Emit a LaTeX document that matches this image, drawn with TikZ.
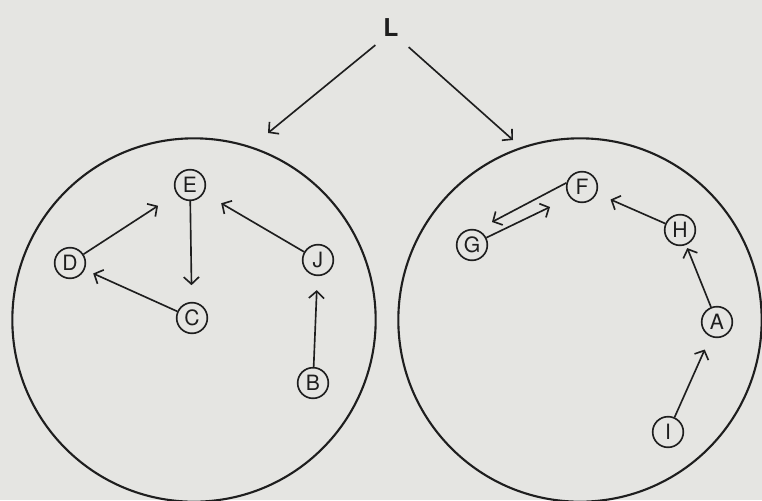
\documentclass[tikz,border=0pt]{standalone}
\usepackage{fontspec}
\setmainfont{TeX Gyre Heros}
\usetikzlibrary{arrows.meta}
\definecolor{bg}{RGB}{229,229,226}
\definecolor{ink}{RGB}{30,30,30}
\begin{document}
\begin{tikzpicture}[x=0.03cm,y=-0.03cm,
  vtx/.style={draw=ink, line width=1.4pt, circle, inner sep=0pt, minimum size=0.92cm, font=\fontsize{18}{18}\selectfont, text=ink},
  big/.style={draw=ink, line width=1.8pt, circle, inner sep=0pt, minimum size=10.9cm},
  arr/.style={draw=ink, line width=1.4pt, -{Straight Barb[length=6pt,width=13pt,line width=1.4pt]}}]
\fill[bg] (0,0) rectangle (762,500);
\useasboundingbox (0,0) rectangle (762,500);
% big circles
\node[big] (left) at (194,320) {};
\node[big] (right) at (580,320) {};
% label L
\node[font=\fontsize{21}{21}\selectfont\bfseries, text=ink] (L) at (391,28) {L};
\coordinate (tl) at (268,133);
\coordinate (tr) at (513,140);
\draw[arr] (L.south west) ++(-4,4) coordinate (ls) (ls) -- (tl);
\draw[arr] (L.south east) ++(6,6) coordinate (rs) (rs) -- (tr);
% left graph
\node[vtx] (E) at (190,185) {E};
\node[vtx] (D) at (70,263) {D};
\node[vtx] (C) at (192,318) {C};
\node[vtx] (J) at (318,260) {J};
\node[vtx] (B) at (313,383) {B};
\draw[arr, shorten >=0.66cm] (D) -- (E);
\draw[arr, shorten >=0.5cm] (E) -- (C);
\draw[arr, shorten >=0.28cm] (C) -- (D);
\draw[arr, shorten >=0.6cm] (J) -- (E);
\draw[arr, shorten >=0.42cm] (B) -- (J);
% right graph
\node[vtx] (F) at (582,187) {F};
\node[vtx] (G) at (472,245) {G};
\node[vtx] (H) at (680,230) {H};
\node[vtx] (A) at (717,322) {A};
\node[vtx] (I) at (668,432) {I};
\coordinate (gf1) at (492,222);
\coordinate (gf2) at (550,207);
\draw[arr] (F.165) -- (gf1);
\draw[arr] (G.27) -- (gf2);
\draw[arr, shorten >=0.45cm] (H) -- (F);
\draw[arr, shorten >=0.1cm] (A) -- (H);
\draw[arr, shorten >=0.42cm] (I) -- (A);
\end{tikzpicture}
\end{document}
